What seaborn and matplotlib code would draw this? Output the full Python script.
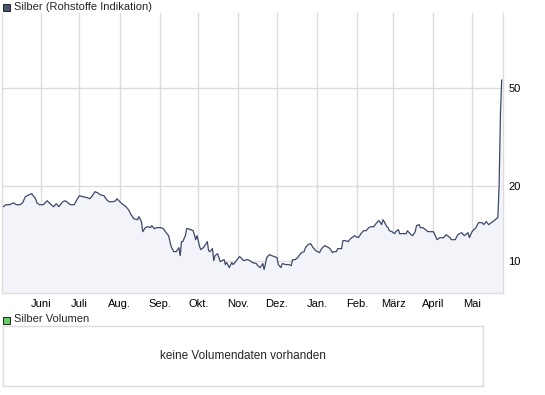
import pandas as pd
import matplotlib
matplotlib.use("Agg")
import matplotlib.pyplot as plt
from matplotlib.patches import Rectangle
from matplotlib.ticker import NullLocator
import seaborn as sns

# --- Daten ---
tage = [
    "2010-05-03", "2010-05-05", "2010-05-08", "2010-05-11", "2010-05-13", "2010-05-16",
    "2010-05-18", "2010-05-20", "2010-05-23", "2010-05-25", "2010-05-28", "2010-05-29",
    "2010-05-31",
    "2010-06-03", "2010-06-06", "2010-06-09", "2010-06-11", "2010-06-13", "2010-06-15",
    "2010-06-18", "2010-06-20", "2010-06-22", "2010-06-24", "2010-06-27", "2010-06-29",
    "2010-07-01", "2010-07-04", "2010-07-07", "2010-07-09", "2010-07-11", "2010-07-13",
    "2010-07-15", "2010-07-17", "2010-07-20", "2010-07-22", "2010-07-24", "2010-07-27",
    "2010-07-29", "2010-07-30",
    "2010-08-02", "2010-08-04", "2010-08-06", "2010-08-08", "2010-08-10", "2010-08-12",
    "2010-08-15", "2010-08-16", "2010-08-18", "2010-08-19", "2010-08-21", "2010-08-23",
    "2010-08-25", "2010-08-26", "2010-08-28", "2010-08-30",
    "2010-09-02", "2010-09-04", "2010-09-05", "2010-09-08", "2010-09-10", "2010-09-12",
    "2010-09-14", "2010-09-15", "2010-09-16", "2010-09-17", "2010-09-18", "2010-09-19",
    "2010-09-21", "2010-09-22", "2010-09-23", "2010-09-25", "2010-09-27", "2010-09-28",
    "2010-09-29", "2010-09-30",
    "2010-10-01", "2010-10-02", "2010-10-03", "2010-10-05", "2010-10-08", "2010-10-09",
    "2010-10-10", "2010-10-12", "2010-10-13", "2010-10-14", "2010-10-16", "2010-10-18",
    "2010-10-21", "2010-10-22", "2010-10-23", "2010-10-25", "2010-10-27", "2010-10-28",
    "2010-10-30", "2010-10-31",
    "2010-11-02", "2010-11-03", "2010-11-05", "2010-11-08", "2010-11-10", "2010-11-12",
    "2010-11-15", "2010-11-16", "2010-11-18", "2010-11-20", "2010-11-21", "2010-11-23",
    "2010-11-25", "2010-11-27", "2010-11-29",
    "2010-12-01", "2010-12-02", "2010-12-04", "2010-12-05", "2010-12-08", "2010-12-10",
    "2010-12-12", "2010-12-13", "2010-12-15", "2010-12-17", "2010-12-18", "2010-12-20",
    "2010-12-22", "2010-12-23", "2010-12-25", "2010-12-27", "2010-12-29", "2010-12-31",
    "2011-01-03", "2011-01-04", "2011-01-06", "2011-01-07", "2011-01-10", "2011-01-11",
    "2011-01-13", "2011-01-14", "2011-01-16", "2011-01-17", "2011-01-20", "2011-01-21",
    "2011-01-23", "2011-01-25", "2011-01-27", "2011-01-30", "2011-01-31",
    "2011-02-02", "2011-02-04", "2011-02-06", "2011-02-08", "2011-02-10", "2011-02-12",
    "2011-02-14", "2011-02-15", "2011-02-17", "2011-02-18", "2011-02-20", "2011-02-21",
    "2011-02-22", "2011-02-24", "2011-02-25", "2011-02-26", "2011-02-28",
    "2011-03-02", "2011-03-03", "2011-03-05", "2011-03-06", "2011-03-09", "2011-03-11",
    "2011-03-12", "2011-03-14", "2011-03-16", "2011-03-18", "2011-03-19", "2011-03-21",
    "2011-03-22", "2011-03-24", "2011-03-26", "2011-03-28", "2011-03-30",
    "2011-04-01", "2011-04-04", "2011-04-06", "2011-04-09", "2011-04-11", "2011-04-14",
    "2011-04-15", "2011-04-18", "2011-04-20", "2011-04-23", "2011-04-25", "2011-04-28",
    "2011-04-29",
    "2011-05-01", "2011-05-04", "2011-05-06", "2011-05-09", "2011-05-10", "2011-05-12",
    "2011-05-14", "2011-05-17", "2011-05-19", "2011-05-21", "2011-05-22", "2011-05-23",
    "2011-05-24",
]
kurs = [
    16.51, 16.82, 16.82, 17.13, 16.82, 16.82, 17.13, 18.11, 18.46, 18.63, 17.78, 17.13,
    16.82,
    16.82, 17.45, 16.82, 16.51, 16.97, 16.51, 17.29, 17.45, 17.13, 16.82, 16.82, 17.62,
    18.28, 18.11, 17.95, 17.78, 18.28, 18.98, 18.80, 18.46, 18.28, 17.62, 17.29, 17.29,
    17.45, 17.78,
    17.13, 16.82, 16.51, 16.05, 15.33, 14.77, 14.63, 15.05, 14.37, 13.09, 13.59, 13.71,
    13.59, 13.84, 13.46, 13.59,
    13.59, 13.46, 13.21, 12.61, 11.39, 10.87, 10.87, 11.08, 11.28, 10.47, 11.93, 11.93,
    12.61, 13.46, 13.46, 13.34, 13.21, 12.73, 12.15, 12.61,
    12.04, 11.39, 11.08, 11.28, 11.93, 10.97, 10.87, 11.18, 10.00, 10.47, 10.67, 9.91,
    10.09, 9.64, 9.82, 9.37, 9.82, 9.64, 9.91, 10.09,
    10.38, 10.28, 10.00, 10.09, 10.00, 9.82, 9.73, 9.55, 9.37, 9.73, 9.20, 10.28,
    10.57, 10.47, 10.38,
    10.28, 9.64, 9.37, 9.73, 9.64, 9.64, 9.55, 10.09, 10.09, 10.28, 10.47, 10.77,
    10.87, 11.28, 11.60, 11.71, 11.28, 10.97,
    10.77, 11.08, 11.39, 11.50, 11.28, 11.18, 10.77, 10.87, 10.87, 11.18, 11.18, 12.04,
    12.04, 11.93, 12.27, 12.61, 12.50,
    12.38, 12.85, 13.21, 13.21, 13.59, 13.71, 13.71, 13.97, 14.37, 14.50, 13.97, 14.63,
    14.37, 13.71, 13.59, 13.21, 13.09,
    12.85, 13.09, 13.34, 12.85, 12.85, 12.85, 13.21, 12.85, 12.61, 13.09, 13.84, 13.97,
    13.59, 13.59, 13.34, 13.09, 13.09,
    13.09, 12.15, 12.38, 12.38, 12.73, 12.38, 12.15, 12.15, 12.73, 12.97, 12.61, 12.97,
    12.38,
    13.09, 13.59, 14.23, 14.23, 13.97, 14.37, 13.97, 14.37, 14.63, 14.91, 20.07, 38.8,
    53.7,
]

monat_ticks = ["2010-06-01", "2010-07-01", "2010-08-01", "2010-09-01", "2010-10-01",
               "2010-11-01", "2010-12-01", "2011-01-01", "2011-02-01", "2011-03-01",
               "2011-04-01", "2011-05-01"]
monat_labels = ["Juni", "Juli", "Aug.", "Sep.", "Okt.", "Nov.", "Dez.",
                "Jan.", "Feb.", "März", "April", "Mai"]
y_ticks = [10, 20, 50]
y_labels = ["10", "20", "50"]

LINIE = "#3c4868"
FLAECHE = "#f3f4fa"
GITTER = "#dcdcdc"

df = pd.DataFrame({"datum": pd.to_datetime(tage), "kurs": kurs})

sns.set_style("white")
plt.rcParams["font.family"] = ["Liberation Sans", "DejaVu Sans"]
plt.rcParams["font.size"] = 8

fig = plt.figure(figsize=(5.45, 3.95), dpi=100)

# --- Kurs-Chart ---
ax = fig.add_axes([2 / 545, 1 - 293 / 395, 501 / 545, 280 / 395])
y_unten, y_oben = 7.4, 100
ax.set_yscale("log")
ax.fill_between(df["datum"], df["kurs"], y_unten, color=FLAECHE, lw=0, zorder=1)
sns.lineplot(data=df, x="datum", y="kurs", ax=ax, color=LINIE, linewidth=0.9, zorder=3)
ax.set_ylim(y_unten, y_oben)
ax.set_xlim(pd.Timestamp("2010-05-02"), pd.Timestamp("2011-05-25"))

ax.set_xticks(pd.to_datetime(monat_ticks), labels=monat_labels)
ax.set_yticks(y_ticks, labels=y_labels)
ax.yaxis.set_minor_locator(NullLocator())
ax.yaxis.tick_right()
ax.tick_params(length=0, labelsize=8, colors="black")
ax.tick_params(axis="x", pad=4)
ax.tick_params(axis="y", pad=4)
ax.set_xlabel("")
ax.set_ylabel("")
ax.grid(True, color=GITTER, lw=1, zorder=0)
for s in ax.spines.values():
    s.set_color(GITTER)
    s.set_linewidth(1)
ax.spines["top"].set_visible(False)

# Legende oben
fig.patches.append(Rectangle((3 / 545, 1 - 10.5 / 395), 7 / 545, 7 / 395,
                             transform=fig.transFigure, facecolor="#4a5570",
                             edgecolor="#222222", lw=0.7))
fig.text(14 / 545, 1 - 7 / 395, "Silber (Rohstoffe Indikation)", va="center",
         ha="left", fontsize=8)

# --- Volumen-Bereich ---
fig.patches.append(Rectangle((3 / 545, 1 - 323.5 / 395), 7 / 545, 7 / 395,
                             transform=fig.transFigure, facecolor="#66cc66",
                             edgecolor="#222222", lw=0.7))
fig.text(14 / 545, 1 - 319.5 / 395, "Silber Volumen", va="center", ha="left", fontsize=8)

ax2 = fig.add_axes([3 / 545, 1 - 386 / 395, 480 / 545, 60 / 395])
ax2.set_xticks([])
ax2.set_yticks([])
for s in ax2.spines.values():
    s.set_color(GITTER)
    s.set_linewidth(1)
ax2.text(0.5, 0.5, "keine Volumendaten vorhanden", transform=ax2.transAxes,
         ha="center", va="center", fontsize=8.5)

fig.savefig("out.png", dpi=100)
